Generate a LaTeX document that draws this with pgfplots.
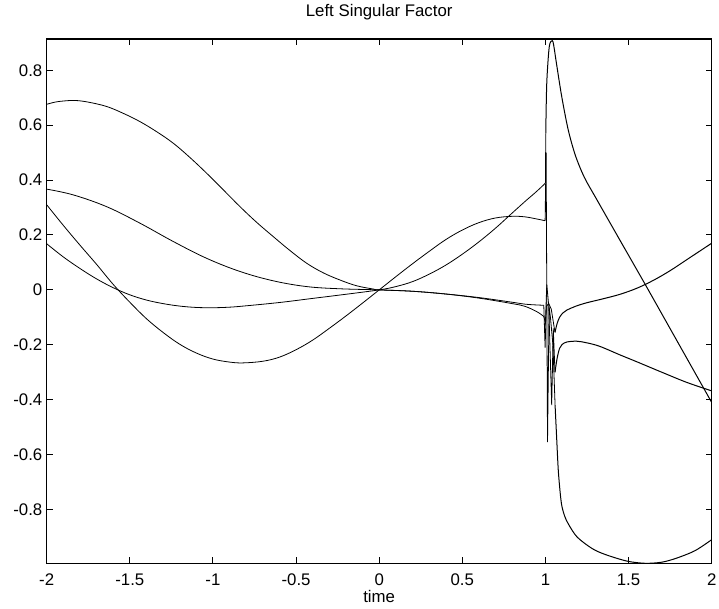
\documentclass[border=0pt]{standalone}
\usepackage{fontspec}
\setmainfont{Liberation Sans}
\usepackage{pgfplots}
\pgfplotsset{compat=1.18}
\begin{document}
\begin{tikzpicture}
\path[use as bounding box] (-23.35pt,-22.85pt) rectangle (336.15pt,281.65pt);
\begin{axis}[
  at={(0,0)}, anchor=south west,
  scale only axis, width=332.5pt, height=262.15pt,
  xmin=-2, xmax=2, ymin=-0.996, ymax=0.914,
  xtick={-2,-1.5,-1,-0.5,0,0.5,1,1.5,2},
  xticklabels={-2,-1.5,-1,-0.5,0,0.5,1,1.5,2},
  ytick={-0.8,-0.6,-0.4,-0.2,0,0.2,0.4,0.6,0.8},
  yticklabels={-0.8,-0.6,-0.4,-0.2,0,0.2,0.4,0.6,0.8},
  tick align=inside, xtick pos=both, ytick pos=both,
  major tick length=3pt,
  tick style={black, line width=0.5pt},
  axis line style={line width=0.6pt},
  font=\fontsize{8.4}{10}\selectfont,
  xticklabel style={anchor=base, inner sep=0pt, yshift=-11.3pt},
  yticklabel style={anchor=east, inner sep=0pt, xshift=-2pt},
  xlabel={time},
  xlabel style={at={(0.5,0)}, anchor=base, inner sep=0pt, yshift=-19.6pt},
  cycle list={{black, solid, line width=0.5pt}},
  every axis plot/.append style={no markers},
]
% Series A
\addplot+[smooth, tension=0.6] coordinates {(-2,0.676) (-1.95,0.684) (-1.9,0.688) (-1.83,0.690) (-1.75,0.684) (-1.639,0.668) (-1.539,0.643) (-1.439,0.613) (-1.338,0.576) (-1.238,0.534) (-1.138,0.482) (-1.038,0.425) (-0.937,0.364) (-0.837,0.303) (-0.737,0.246) (-0.637,0.194) (-0.536,0.143) (-0.436,0.097) (-0.336,0.062) (-0.236,0.036) (-0.136,0.015) (-0.035,0.003) (0,0) (0.2,-0.005) (0.4,-0.015) (0.6,-0.03) (0.8,-0.05) (0.877,-0.06) (0.95,-0.08) (0.99,-0.097)};
\addplot+[sharp plot] coordinates {(0.99,-0.097) (1.0,-0.12) (1.008,0.02) (1.02,-0.06) (1.0376,-0.42) (1.047,-0.14) (1.0575,-0.30)};
\addplot+[smooth, tension=0.55] coordinates {(1.0575,-0.30) (1.07,-0.25) (1.085,-0.213) (1.1,-0.199) (1.128,-0.19) (1.188,-0.187) (1.25,-0.193) (1.328,-0.206) (1.449,-0.237) (1.55,-0.262) (1.7,-0.3) (1.85,-0.337) (2,-0.368)};
% Series B
\addplot+[smooth, tension=0.6] coordinates {(-2,0.367) (-1.84,0.346) (-1.639,0.303) (-1.439,0.243) (-1.238,0.176) (-1.038,0.115) (-0.837,0.067) (-0.637,0.033) (-0.436,0.012) (-0.236,0.004) (0,0) (0.2,-0.005) (0.4,-0.015) (0.6,-0.028) (0.8,-0.045) (0.877,-0.052) (0.95,-0.055) (0.99,-0.056)};
\addplot+[sharp plot] coordinates {(0.99,-0.056) (0.998,-0.21) (1.005,-0.06) (1.02,-0.05) (1.035,-0.07) (1.0575,-0.155)};
\addplot+[smooth, tension=0.55] coordinates {(1.0575,-0.155) (1.07,-0.123) (1.085,-0.1) (1.105,-0.084) (1.128,-0.074) (1.18,-0.06) (1.248,-0.047) (1.35,-0.032) (1.449,-0.016) (1.55,0.006) (1.65,0.035) (1.75,0.07) (1.85,0.11) (1.95,0.15) (2,0.17)};
% Series C
\addplot+[smooth, tension=0.6] coordinates {(-2,0.31) (-1.9,0.235) (-1.8,0.163) (-1.7,0.093) (-1.6,0.02) (-1.5,-0.045) (-1.4,-0.105) (-1.3,-0.155) (-1.2,-0.198) (-1.1,-0.230) (-1.0,-0.252) (-0.9,-0.263) (-0.82,-0.266) (-0.7,-0.260) (-0.6,-0.245) (-0.5,-0.218) (-0.4,-0.183) (-0.3,-0.140) (-0.2,-0.095) (-0.1,-0.048) (0,0) (0.1,0.048) (0.2,0.095) (0.3,0.140) (0.4,0.183) (0.5,0.218) (0.6,0.245) (0.7,0.262) (0.8,0.268) (0.877,0.266) (0.95,0.258) (0.998,0.252)};
\addplot+[sharp plot] coordinates {(0.998,0.252) (1.004,0.50) (1.0125,-0.555) (1.022,-0.06) (1.03,-0.1) (1.045,-0.2) (1.058,-0.42)};
\addplot+[smooth, tension=0.5] coordinates {(1.058,-0.42) (1.068,-0.546) (1.077,-0.655) (1.088,-0.735) (1.098,-0.785) (1.115,-0.823) (1.137,-0.852) (1.19,-0.9) (1.28,-0.942) (1.36,-0.964) (1.49,-0.988) (1.6,-0.996) (1.7,-0.992) (1.79,-0.977) (1.9,-0.95) (2,-0.91)};
% Series D
\addplot+[smooth, tension=0.6] coordinates {(-2,0.168) (-1.9,0.12) (-1.8,0.078) (-1.7,0.04) (-1.6,0.008) (-1.5,-0.018) (-1.4,-0.037) (-1.3,-0.05) (-1.2,-0.059) (-1.1,-0.064) (-1.0,-0.065) (-0.9,-0.063) (-0.8,-0.058) (-0.6,-0.046) (-0.4,-0.031) (-0.2,-0.016) (0,0) (0.1,0.012) (0.2,0.03) (0.3,0.057) (0.4,0.09) (0.5,0.13) (0.6,0.175) (0.7,0.225) (0.8,0.28) (0.877,0.322) (0.94,0.355) (0.99,0.383)};
\addplot+[sharp plot] coordinates {(0.99,0.383) (1.0,0.39) (1.002,0.57)};
\addplot+[smooth, tension=0.5] coordinates {(1.002,0.57) (1.008,0.754) (1.023,0.886) (1.041,0.908) (1.05,0.89) (1.066,0.826) (1.098,0.704) (1.137,0.583) (1.18,0.49) (1.234,0.41) (1.308,0.33) (1.449,0.18) (1.6,0.02) (1.8,-0.195) (2,-0.41)};
\end{axis}
\node[anchor=base, inner sep=0pt, font=\fontsize{8.4}{10}\selectfont] at (166.25pt,273.4pt) {Left Singular Factor};
\end{tikzpicture}
\end{document}
